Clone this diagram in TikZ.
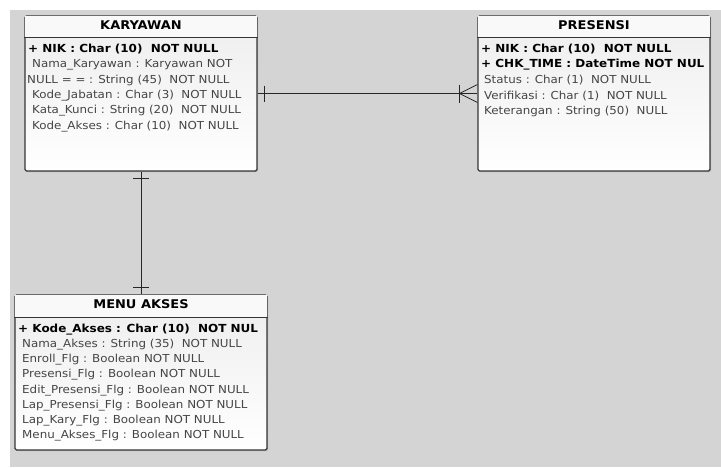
\documentclass[tikz,border=0pt]{standalone}
\usepackage{fontspec}
\setmainfont{DejaVu Sans}[FakeStretch=1.08]
\usetikzlibrary{shadows}

\definecolor{canvasgray}{HTML}{D4D4D4}
\definecolor{rowgray}{HTML}{454545}
\definecolor{boxline}{HTML}{353535}

\tikzset{
  tablebox/.style={draw=boxline, line width=1.1pt, rounded corners=1.5pt,
    top color=gray!14, bottom color=white, inner sep=0pt,
    drop shadow={shadow xshift=1.2pt, shadow yshift=-1.2pt, opacity=0.35}},
  headfill/.style={fill=gray!5},
  headline/.style={draw=boxline, line width=0.9pt},
  tabletitle/.style={font=\bfseries\fontsize{12}{14}\selectfont, inner sep=0pt},
  keyrow/.style={anchor=west, inner sep=0pt, font=\bfseries\fontsize{11.1}{13}\selectfont},
  attrrow/.style={anchor=west, inner sep=0pt, text=rowgray, font=\fontsize{11}{13}\selectfont},
  relline/.style={draw=black!85, line width=0.8pt}
}

\begin{document}
\begin{tikzpicture}[x=1pt, y=-1pt]
\useasboundingbox (0,0) rectangle (721,467);

% canvas
\fill[canvasgray] (10,10) rectangle (721,467);

% table KARYAWAN
\node[tablebox, minimum width=232pt, minimum height=155pt] (kary) at (141,93.5) {};
\fill[headfill] ([xshift=0.6pt,yshift=-0.6pt]kary.north west) rectangle ([xshift=-0.6pt,yshift=-22pt]kary.north east);
\draw[headline] ([yshift=-22pt]kary.north west) -- ([yshift=-22pt]kary.north east);
\node[tabletitle] (karyT) at ([yshift=-9.5pt]kary.north) {KARYAWAN};
\node[keyrow]  (karyA) at (28,49.5)  {+ NIK : Char (10)~ NOT NULL};
\node[attrrow] (karyB) at (32,65)    {Nama\_Karyawan : Karyawan NOT};
\node[attrrow] (karyC) at (27,80.5)  {NULL = = : String (45)~ NOT NULL};
\node[attrrow] (karyD) at (32,96)    {Kode\_Jabatan : Char (3)~ NOT NULL};
\node[attrrow] (karyE) at (32,111)   {Kata\_Kunci : String (20)~ NOT NULL};
\node[attrrow] (karyF) at (32,126.5) {Kode\_Akses : Char (10)~ NOT NULL};

% table PRESENSI
\node[tablebox, minimum width=232pt, minimum height=155pt] (pres) at (594,93.5) {};
\fill[headfill] ([xshift=0.6pt,yshift=-0.6pt]pres.north west) rectangle ([xshift=-0.6pt,yshift=-22pt]pres.north east);
\draw[headline] ([yshift=-22pt]pres.north west) -- ([yshift=-22pt]pres.north east);
\node[tabletitle] (presT) at ([yshift=-9.5pt]pres.north) {PRESENSI};
\node[keyrow]  (presA) at (481,49.5) {+ NIK : Char (10)~ NOT NULL};
\node[keyrow]  (presB) at (481,65)   {+ CHK\_TIME : DateTime NOT NUL};
\node[attrrow] (presC) at (484,80.5) {Status : Char (1)~ NOT NULL};
\node[attrrow] (presD) at (484,96)   {Verifikasi : Char (1)~ NOT NULL};
\node[attrrow] (presE) at (484,111)  {Keterangan : String (50)~ NULL};

% table MENU AKSES
\node[tablebox, minimum width=252pt, minimum height=155pt] (menu) at (141,372.5) {};
\fill[headfill] ([xshift=0.6pt,yshift=-0.6pt]menu.north west) rectangle ([xshift=-0.6pt,yshift=-23pt]menu.north east);
\draw[headline] ([yshift=-23pt]menu.north west) -- ([yshift=-23pt]menu.north east);
\node[tabletitle] (menuT) at ([yshift=-10pt]menu.north) {MENU AKSES};
\node[keyrow]  (menuA) at (18,329.5) {+ Kode\_Akses : Char (10)~ NOT NUL};
\node[attrrow] (menuB) at (22,344.5) {Nama\_Akses : String (35)~ NOT NULL};
\node[attrrow] (menuC) at (22,360)   {Enroll\_Flg : Boolean NOT NULL};
\node[attrrow] (menuD) at (22,375)   {Presensi\_Flg : Boolean NOT NULL};
\node[attrrow] (menuE) at (22,390.5) {Edit\_Presensi\_Flg : Boolean NOT NULL};
\node[attrrow] (menuF) at (22,405.5) {Lap\_Presensi\_Flg : Boolean NOT NULL};
\node[attrrow] (menuG) at (22,420.5) {Lap\_Kary\_Flg : Boolean NOT NULL};
\node[attrrow] (menuH) at (22,436)   {Menu\_Akses\_Flg : Boolean NOT NULL};

% relation KARYAWAN -- PRESENSI (one to many)
\draw[relline] (kary.east) -- (pres.west);
\draw[relline] ([xshift=7pt,yshift=8pt]kary.east) -- ([xshift=7pt,yshift=-8pt]kary.east);
\draw[relline] ([xshift=-18pt,yshift=9pt]pres.west) -- ([xshift=-18pt,yshift=-9pt]pres.west);
\draw[relline] ([yshift=9pt]pres.west) -- ([xshift=-18pt]pres.west) -- ([yshift=-9pt]pres.west);

% relation KARYAWAN -- MENU AKSES (one to one)
\draw[relline] (kary.south) -- (menu.north);
\draw[relline] ([xshift=-8pt,yshift=-7pt]kary.south) -- ([xshift=8pt,yshift=-7pt]kary.south);
\draw[relline] ([xshift=-8pt,yshift=7pt]menu.north) -- ([xshift=8pt,yshift=7pt]menu.north);

\end{tikzpicture}
\end{document}
